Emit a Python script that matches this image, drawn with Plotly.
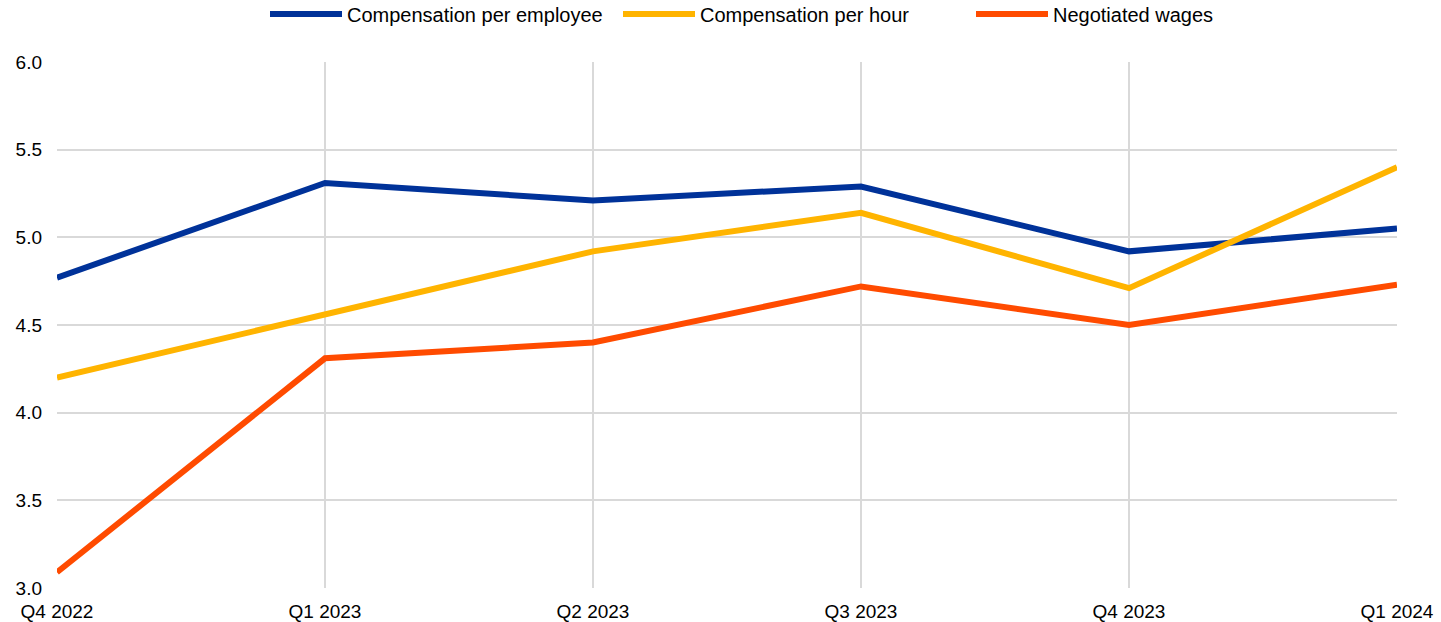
import plotly.graph_objects as go

quarters = ["Q4 2022", "Q1 2023", "Q2 2023", "Q3 2023", "Q4 2023", "Q1 2024"]
comp_per_employee = [4.77, 5.31, 5.21, 5.29, 4.92, 5.05]
comp_per_hour = [4.20, 4.56, 4.92, 5.14, 4.71, 5.40]
negotiated_wages = [3.09, 4.31, 4.40, 4.72, 4.50, 4.73]

series = [
    ("Compensation per employee", comp_per_employee, "#003299"),
    ("Compensation per hour", comp_per_hour, "#FFB400"),
    ("Negotiated wages", negotiated_wages, "#FF4B00"),
]

fig = go.Figure()
for name, vals, color in series:
    fig.add_trace(go.Scatter(x=quarters, y=vals, name=name, mode="lines",
                             line=dict(color=color, width=6)))

fig.update_layout(
    width=1441, height=622,
    margin=dict(l=57, r=44, t=62, b=34, autoexpand=False),
    paper_bgcolor="white", plot_bgcolor="white",
    font=dict(family="Liberation Sans, Arial, sans-serif", size=19, color="#000000"),
    legend=dict(orientation="h", x=265 / 1441, xanchor="left", xref="container",
                y=1 - 14 / 622, yanchor="middle", yref="container",
                font=dict(size=20), itemwidth=72, entrywidth=266,
                entrywidthmode="pixels", traceorder="normal"),
    showlegend=True,
)
fig.update_xaxes(type="category", range=[0, 5], showgrid=True, gridcolor="#d9d9d9",
                 gridwidth=2, showline=False, zeroline=False, ticks="",
                 ticklabelstandoff=10, automargin=False, tickfont=dict(size=19))
fig.update_yaxes(range=[3.0, 6.0], dtick=0.5, tickformat=".1f", showgrid=True,
                 gridcolor="#d9d9d9", gridwidth=2, zeroline=False, showline=False,
                 ticks="", ticklabelstandoff=14, automargin=False,
                 tickfont=dict(size=19))

fig.write_html("out.html", config={"displayModeBar": False},
               post_script="document.body.style.margin='0';document.body.style.overflow='hidden';")
